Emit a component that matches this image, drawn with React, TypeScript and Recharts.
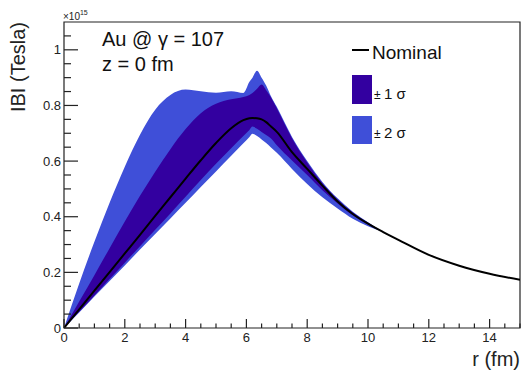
import {
  ComposedChart,
  Area,
  Line,
  XAxis,
  YAxis,
  ReferenceArea,
} from 'recharts'

// r in fm, field in units of 1e15 Tesla
const R = [0, 0.5, 1, 1.5, 2, 2.5, 3, 3.5, 4, 4.5, 5, 5.5, 5.9, 6.1, 6.2, 6.35, 6.5, 6.65, 6.8, 7, 7.5, 8, 8.5, 9, 9.5, 10, 10.5, 11, 12, 13, 14, 15]
const NOMINAL = [0, 0.067, 0.134, 0.201, 0.268, 0.335, 0.403, 0.47, 0.537, 0.603, 0.665, 0.718, 0.747, 0.754, 0.755, 0.754, 0.75, 0.74, 0.725, 0.705, 0.632, 0.572, 0.512, 0.455, 0.41, 0.375, 0.345, 0.317, 0.263, 0.224, 0.195, 0.173]
const SIGMA1_HIGH = [0, 0.095, 0.19, 0.287, 0.383, 0.475, 0.562, 0.643, 0.715, 0.772, 0.806, 0.822, 0.83, 0.838, 0.845, 0.86, 0.875, 0.855, 0.83, 0.79, 0.682, 0.595, 0.52, 0.462, 0.415, 0.378, 0.345, 0.317, 0.263, 0.224, 0.195, 0.173]
const SIGMA1_LOW = [0, 0.058, 0.117, 0.176, 0.235, 0.294, 0.353, 0.412, 0.472, 0.532, 0.59, 0.646, 0.69, 0.712, 0.724, 0.716, 0.705, 0.694, 0.682, 0.657, 0.602, 0.55, 0.495, 0.448, 0.405, 0.372, 0.345, 0.317, 0.263, 0.224, 0.195, 0.173]
const SIGMA2_HIGH = [0, 0.16, 0.31, 0.45, 0.58, 0.695, 0.785, 0.838, 0.857, 0.851, 0.846, 0.851, 0.845, 0.885, 0.9, 0.925, 0.9, 0.872, 0.835, 0.795, 0.687, 0.6, 0.525, 0.466, 0.418, 0.38, 0.345, 0.317, 0.263, 0.224, 0.195, 0.173]
const SIGMA2_LOW = [0, 0.056, 0.113, 0.169, 0.225, 0.282, 0.338, 0.394, 0.45, 0.507, 0.563, 0.619, 0.664, 0.687, 0.698, 0.69, 0.678, 0.665, 0.65, 0.63, 0.572, 0.518, 0.47, 0.43, 0.393, 0.366, 0.345, 0.317, 0.263, 0.224, 0.195, 0.173]

const X_TICKS = Array.from({ length: 31 }, (_, i) => i * 0.5)
const Y_TICKS = Array.from({ length: 22 }, (_, i) => Math.round(i * 5) / 100)

const DARK = '#3300a0'
const LIGHT = '#3f4fd8'
const FONT = '"Liberation Sans", Arial, Helvetica, sans-serif'

const data = R.map((r, i) => ({
  r,
  nominal: NOMINAL[i],
  band1: [SIGMA1_LOW[i], SIGMA1_HIGH[i]],
  band2: [SIGMA2_LOW[i], SIGMA2_HIGH[i]],
}))

const isMajor = (v: number, step: number) => Math.abs(v / step - Math.round(v / step)) < 1e-6

function XTick(props: any) {
  const { x, y, payload } = props
  const major = isMajor(payload.value, 2)
  return (
    <g>
      <line x1={x} x2={x} y1={y} y2={y - (major ? 9 : 4.5)} stroke="#222" strokeWidth={1.2} />
      {major && (
        <text x={x} y={y + 14} textAnchor="middle" fontSize={13} fill="#222" fontFamily={FONT}>
          {payload.value}
        </text>
      )}
    </g>
  )
}

function YTick(props: any) {
  const { x, y, payload } = props
  const major = isMajor(payload.value, 0.2)
  return (
    <g>
      <line x1={x} x2={x + (major ? 14 : 7)} y1={y} y2={y} stroke="#222" strokeWidth={1.2} />
      {major && (
        <text x={x - 3} y={y + 4.5} textAnchor="end" fontSize={13} fill="#222" fontFamily={FONT}>
          {Math.round(payload.value * 10) / 10}
        </text>
      )}
    </g>
  )
}

export default function App() {
  return (
    <div style={{ position: 'absolute', left: 0, top: 0, width: 522, height: 372, background: '#fff' }}>
      <ComposedChart width={522} height={372} data={data} margin={{ top: 22, right: 2, left: 0, bottom: 0 }}>
        <XAxis
          dataKey="r"
          type="number"
          domain={[0, 15]}
          ticks={X_TICKS}
          interval={0}
          height={44}
          tickSize={0}
          tickMargin={0}
          axisLine={false}
          tickLine={false}
          tick={<XTick />}
          allowDataOverflow
        />
        <YAxis
          type="number"
          domain={[0, 1.1]}
          ticks={Y_TICKS}
          interval={0}
          width={64}
          tickSize={0}
          tickMargin={0}
          axisLine={false}
          tickLine={false}
          tick={<YTick />}
          allowDataOverflow
        />
        <Area dataKey="band2" type="monotone" fill={LIGHT} fillOpacity={1} stroke="none" isAnimationActive={false} />
        <Area dataKey="band1" type="monotone" fill={DARK} fillOpacity={1} stroke="none" isAnimationActive={false} />
        <Line dataKey="nominal" type="monotone" stroke="#000" strokeWidth={2} dot={false} isAnimationActive={false} />
        <ReferenceArea x1={0} x2={15} y1={0} y2={1.1} fill="none" stroke="#222" strokeWidth={1.2} ifOverflow="visible" />
      </ComposedChart>
      <svg width={522} height={372} style={{ position: 'absolute', left: 0, top: 0, pointerEvents: 'none' }} fontFamily={FONT}>
        <text x={63} y={20} fontSize={10} fill="#222">
          ×10<tspan dy={-5} fontSize={7}>15</tspan>
        </text>
        <text x={25} y={22} fontSize={20} fill="#222" textAnchor="end" transform="rotate(-90 25 22)">
          IBI (Tesla)
        </text>
        <text x={520} y={366} fontSize={20} fill="#222" textAnchor="end">
          r (fm)
        </text>
        <text x={102} y={46} fontSize={20} fill="#111">
          Au @ γ = 107
        </text>
        <text x={102} y={71} fontSize={20} fill="#111">
          z = 0 fm
        </text>
        <line x1={352} x2={369} y1={50} y2={50} stroke="#000" strokeWidth={2} />
        <text x={372} y={59} fontSize={19} fill="#111">
          Nominal
        </text>
        <rect x={352} y={75} width={20} height={29} fill={DARK} />
        <text x={374} y={99} fill="#111">
          <tspan fontSize={12}>± </tspan>
          <tspan fontSize={15}>1 σ</tspan>
        </text>
        <rect x={352} y={116} width={20} height={28} fill={LIGHT} />
        <text x={374} y={138} fill="#111">
          <tspan fontSize={12}>± </tspan>
          <tspan fontSize={15}>2 σ</tspan>
        </text>
      </svg>
    </div>
  )
}
